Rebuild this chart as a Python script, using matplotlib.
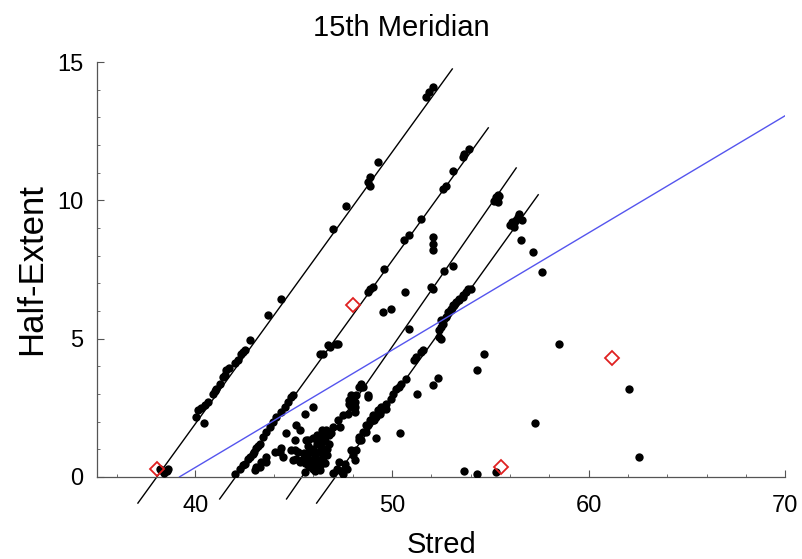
import matplotlib.pyplot as plt
from matplotlib.ticker import MultipleLocator

plt.rcParams['font.family'] = ['Liberation Sans', 'DejaVu Sans']

# fitted lines, read as end points (x pair, y pair)
fit_lines_x = [[37.08, 53.07], [41.24, 54.9], [44.64, 56.32], [46.17, 57.44]]
fit_lines_y = [[-0.95, 14.75], [-0.8, 12.62], [-0.8, 11.17], [-0.95, 10.2]]
blue_x = [39.2, 70.0]
blue_y = [0.0, 13.06]

# red open diamonds
red_x = [38.05, 48.03, 55.55, 61.18]
red_y = [0.28, 6.2, 0.35, 4.28]

# black points: (Stred, Half-Extent)
pts_line1 = [(38.28, 0.24), (38.54, 0.22), (38.4, 0.15), (38.2, 0.3), (38.6, 0.3),
             (40.06, 2.17), (40.14, 2.41), (40.43, 1.93), (40.48, 2.59), (40.65, 2.71),
             (40.9, 3.01), (41.07, 3.19), (41.24, 3.37), (41.41, 3.61), (41.58, 3.85),
             (41.7, 3.95), (42.17, 4.21), (42.34, 4.45), (42.51, 4.57), (42.77, 4.94),
             (40.3, 2.5), (41.0, 3.1), (41.5, 3.7), (42.0, 4.1), (42.4, 4.5),
             (43.7, 5.86), (44.38, 6.44), (47.0, 8.97), (47.67, 9.81), (48.8, 10.65),
             (48.86, 10.53), (48.86, 10.83), (49.28, 11.37), (51.74, 13.72), (51.9, 13.9),
             (52.07, 14.08)]
pts_line2 = [(42.0, 0.12), (42.26, 0.3), (42.51, 0.48), (42.68, 0.66), (42.94, 0.84),
             (43.1, 1.03), (43.27, 1.2), (43.44, 1.44), (43.61, 1.62), (43.78, 1.81),
             (43.95, 1.99), (44.12, 2.17), (44.37, 2.35), (44.54, 2.53), (44.71, 2.71),
             (44.88, 2.89), (44.97, 2.95), (43.1, 0.36), (43.36, 0.54), (42.43, 0.42),
             (42.8, 0.7), (43.0, 0.9), (43.2, 1.1), (46.32, 4.45), (46.49, 4.45),
             (46.74, 4.75), (46.83, 4.69), (47.16, 4.82), (47.25, 4.82), (48.77, 6.68),
             (48.86, 6.8), (49.03, 6.86), (49.62, 7.52), (50.63, 8.55), (50.89, 8.73),
             (51.48, 9.33), (52.58, 10.41), (52.75, 10.53), (53.09, 11.07), (53.6, 11.55),
             (53.68, 11.67), (53.93, 11.86)]
pts_between = [(52.07, 8.66), (52.07, 8.43), (52.07, 8.19), (50.69, 6.68), (49.53, 5.96),
               (49.96, 6.08), (45.56, 2.29), (45.98, 2.53), (45.14, 1.87), (45.3, 1.69),
               (44.63, 1.57), (44.37, 1.03), (44.29, 0.9), (44.04, 0.9), (43.61, 0.72),
               (43.27, 0.36), (43.02, 0.24), (44.88, 0.96), (45.22, 0.9), (45.73, 1.32),
               (45.48, 0.66), (45.3, 0.54), (45.05, 1.32), (44.46, 0.72), (44.97, 0.6),
               (43.61, 0.54), (45.05, 0.96), (45.14, 0.66), (45.64, 1.32)]
pts_cluster = [(46.66, 1.69), (46.49, 1.5), (46.32, 1.32), (46.8, 1.5), (46.6, 1.3),
               (46.4, 1.1), (46.2, 1.2), (46.0, 1.0), (45.8, 0.9), (46.1, 0.8),
               (46.3, 0.9), (46.5, 0.9), (46.7, 1.0), (46.8, 1.2), (45.7, 0.7),
               (45.9, 0.6), (46.1, 0.55), (46.3, 0.6), (46.5, 0.7), (46.7, 0.8),
               (45.81, 0.6), (45.9, 0.36), (46.0, 0.3), (46.2, 0.35), (46.4, 0.45),
               (46.6, 0.5), (45.6, 0.5), (46.0, 1.4), (46.2, 1.5), (46.45, 1.7),
               (46.66, 0.96), (46.9, 1.6), (45.55, 0.85), (46.1, 0.2), (46.35, 0.25),
               (45.75, 1.1)]
pts_line3 = [(45.56, 0.18), (45.73, 0.42), (46.99, 1.81), (47.25, 2.05), (47.5, 2.23),
             (47.34, 1.81), (47.76, 2.29), (47.93, 2.53), (48.1, 2.71), (47.84, 2.65),
             (47.84, 2.77), (48.01, 2.77), (48.18, 2.95), (47.93, 2.95), (48.1, 2.53),
             (48.1, 2.35), (48.43, 3.25), (48.35, 3.25), (48.52, 3.25), (48.43, 3.37),
             (48.77, 2.95), (48.77, 2.89), (50.89, 5.36), (51.99, 6.86), (52.07, 6.8),
             (52.66, 7.46), (53.09, 7.64), (55.29, 10.11), (55.37, 9.93), (55.2, 9.99),
             (55.46, 10.17), (55.3, 10.05), (55.4, 10.2)]
pts_line4 = [(47.0, 0.15), (47.2, 0.3), (47.4, 0.2), (47.6, 0.45), (47.3, 0.55),
             (47.5, 0.1), (47.7, 0.3), (47.93, 0.96), (48.1, 0.6), (48.01, 0.78),
             (48.18, 0.96), (48.35, 1.32), (48.35, 1.44), (48.43, 1.32), (48.52, 1.63),
             (48.69, 1.63), (48.69, 1.87), (48.77, 1.87), (48.86, 2.05), (49.03, 2.05),
             (49.03, 2.23), (49.11, 2.05), (49.19, 2.17), (49.28, 2.41), (49.37, 2.29),
             (49.45, 2.41), (49.45, 2.53), (49.53, 2.47), (49.7, 2.47), (49.7, 2.65),
             (49.95, 2.83), (50.04, 3.01), (50.2, 3.19), (50.38, 3.25), (50.46, 3.37),
             (50.72, 3.55), (51.14, 4.21), (51.23, 4.33), (51.48, 4.51), (51.56, 4.57),
             (52.41, 5.05), (52.49, 5.0), (52.41, 5.3), (52.49, 5.42), (52.49, 5.66),
             (52.58, 5.54), (52.75, 5.78), (52.83, 5.96), (53.0, 6.02), (53.0, 6.08),
             (53.09, 6.2), (53.17, 6.2), (53.26, 6.32), (53.43, 6.38), (53.43, 6.44),
             (53.6, 6.5), (53.6, 6.56), (53.76, 6.68), (53.85, 6.8), (54.02, 6.8),
             (56.0, 9.1), (56.1, 9.2), (56.22, 9.19), (56.3, 9.3), (56.4, 9.4),
             (56.47, 9.51), (56.6, 9.3), (56.2, 9.05)]
pts_scatter = [(56.56, 8.55), (57.15, 8.12), (57.62, 7.4), (58.5, 4.82), (54.7, 4.45),
               (54.32, 3.85), (52.35, 3.58), (52.1, 3.31), (51.25, 3.01), (50.4, 1.6),
               (49.19, 1.42), (62.06, 3.16), (53.68, 0.22), (54.32, 0.12), (55.29, 0.16),
               (57.27, 1.93), (62.56, 0.72)]

all_pts = pts_line1 + pts_line2 + pts_between + pts_cluster + pts_line3 + pts_line4 + pts_scatter
px = [p[0] for p in all_pts]
py = [p[1] for p in all_pts]

fig = plt.figure(figsize=(8.03, 5.59), dpi=100)
ax = fig.add_axes([0.1208, 0.147, 0.857, 0.742])

for lx, ly in zip(fit_lines_x, fit_lines_y):
    ax.plot(lx, ly, color='black', lw=1.0, clip_on=False, zorder=2)

ax.plot(px, py, 'o', color='black', ms=6, mew=0, zorder=3)
ax.plot(blue_x, blue_y, color='#5555ee', lw=1.0, zorder=4)
ax.plot(red_x, red_y, 'D', mfc='none', mec='#e02020', ms=7.5, mew=1.3, zorder=5)

ax.set_xlim(35, 70)
ax.set_ylim(0, 15)
ax.xaxis.set_major_locator(MultipleLocator(10))
ax.xaxis.set_minor_locator(MultipleLocator(2))
ax.yaxis.set_major_locator(MultipleLocator(5))
ax.yaxis.set_minor_locator(MultipleLocator(1))
ax.tick_params(which='major', direction='in', length=5, width=0.8, color='#555555',
               labelsize=17, pad=10)
ax.tick_params(which='minor', direction='in', length=2.5, width=0.6, color='#555555')
ax.tick_params(axis='x', which='major', pad=13)

for s in ['top', 'right']:
    ax.spines[s].set_visible(False)
for s in ['left', 'bottom']:
    ax.spines[s].set_color('#555555')
    ax.spines[s].set_linewidth(0.9)

ax.set_xlabel('Stred', fontsize=21, labelpad=10)
ax.set_ylabel('Half-Extent', fontsize=25, labelpad=6)
fig.text(0.5, 0.95, '15th Meridian', ha='center', va='center', fontsize=21)

fig.savefig('out.png', dpi=100)
